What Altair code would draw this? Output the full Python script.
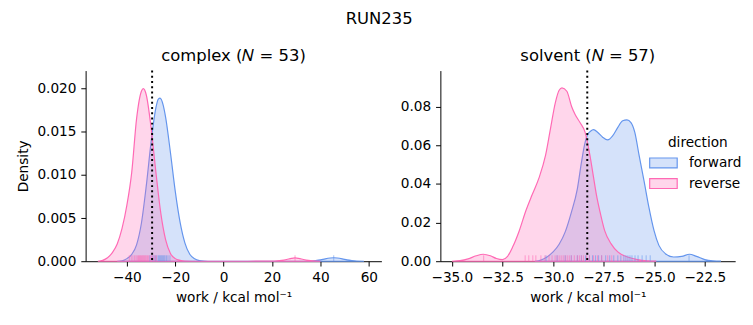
import altair as alt
import pandas as pd

# ---------------- data ----------------
directions = ["forward", "reverse"]

# complex panel: KDE curves
cx_fwd_x = [-44, -42, -40, -38, -36, -34, -32, -30, -28, -27, -26.3, -25, -24, -22, -20, -18, -16,
            -14, -12, -10, -8, -5, 0, 10, 20, 30, 36, 38, 40, 42, 44, 45.5, 47, 49, 51, 53, 55, 58]
cx_fwd_d = [0, 0.00005, 0.0003, 0.0008, 0.0019, 0.0044, 0.0087, 0.0138, 0.0178, 0.0188, 0.0189,
            0.0181, 0.0167, 0.0126, 0.0081, 0.0045, 0.0021, 0.0008, 0.00028, 0.00008, 0.00002, 0, 0,
            0, 0, 0, 0.00002, 0.00007, 0.00015, 0.00028, 0.00037, 0.0004, 0.00037, 0.00028, 0.00015,
            0.00007, 0.00002, 0]
cx_rev_x = [-52, -50, -48, -46, -44, -42, -40, -38, -36, -34, -33.2, -32, -30, -28, -26, -24, -22,
            -20, -18, -16, -10, 0, 10, 20, 22, 24, 26, 28, 29.5, 31, 33, 35, 37, 40]
cx_rev_d = [0, 0.0001, 0.0004, 0.0010, 0.0020, 0.0038, 0.0065, 0.0103, 0.0165, 0.0197, 0.0200,
            0.0193, 0.0155, 0.0103, 0.0056, 0.0025, 0.0009, 0.0003, 0.0001, 0.00002, 0, 0, 0,
            0.00001, 0.00004, 0.0001, 0.0002, 0.00033, 0.00038, 0.00033, 0.0002, 0.0001, 0.00004, 0]

# complex panel: rug samples
cx_fwd_rug = [-30.5, -29.5, -28.8, -28.2, -27.6, -27.0, -26.6, -26.2, -25.8, -25.4, -25.0, -24.6,
              -24.2, -23.6, -23.0, -22.2, 45.5]
cx_rev_rug = [-39.0, -38.2, -37.5, -36.8, -36.2, -35.7, -35.2, -34.8, -34.4, -34.0, -33.6, -33.2,
              -32.8, -32.4, -32.0, -31.5, -31.0, -30.4, -29.8, -29.2, -28.5, -27.8, 29.5]
cx_estimate = [-29.57]

# solvent panel: KDE curves
sv_fwd_x = [-30.9, -30.6, -30.3, -30.0, -29.7, -29.4, -29.1, -28.8, -28.6, -28.45, -28.3, -28.15,
            -28.0, -27.8, -27.55, -27.3, -27.05, -26.8, -26.56, -26.35, -26.15, -25.96, -25.75,
            -25.5, -25.26, -25.01, -24.77, -24.45, -24.04, -23.64, -23.26, -22.91, -22.5, -22.1, -21.7]
sv_fwd_d = [0, 0.0006, 0.0022, 0.0048, 0.0088, 0.0152, 0.0252, 0.0375, 0.051, 0.060, 0.0655, 0.0673,
            0.0681, 0.0668, 0.0642, 0.0628, 0.0650, 0.0693, 0.0727, 0.0732, 0.0718, 0.0667, 0.0549,
            0.0413, 0.0277, 0.0158, 0.0082, 0.0039, 0.0022, 0.0025, 0.0036, 0.0025, 0.00085, 0.0002, 0]
sv_rev_x = [-35.0, -34.6, -34.2, -33.8, -33.45, -33.1, -32.8, -32.5, -32.25, -32.0, -31.67, -31.35,
            -31.03, -30.70, -30.37, -30.13, -29.89, -29.7, -29.56, -29.32, -29.08, -28.91, -28.67,
            -28.42, -28.18, -28.02, -27.86, -27.69, -27.45, -27.13, -26.80, -26.32, -25.83, -25.34, -24.9]
sv_rev_d = [0, 0.0003, 0.0012, 0.0028, 0.0036, 0.0028, 0.0014, 0.0008, 0.0025, 0.0073, 0.0158, 0.026,
            0.0345, 0.043, 0.0549, 0.0685, 0.082, 0.0885, 0.0897, 0.088, 0.080, 0.076, 0.0718, 0.0668,
            0.0549, 0.0447, 0.0345, 0.026, 0.0158, 0.009, 0.0048, 0.0022, 0.00085, 0.0002, 0]

# solvent panel: rug samples
sv_fwd_rug = [-30.35, -29.8, -29.4, -29.1, -28.8, -28.6, -28.4, -28.2, -28.05, -27.9, -27.75, -27.6,
              -27.4, -27.2, -27.0, -26.8, -26.65, -26.5, -26.4, -26.3, -26.2, -26.1, -25.95, -25.8,
              -25.6, -25.4, -25.2, -23.28]
sv_rev_rug = [-33.43, -31.38, -31.2, -31.0, -30.85, -30.6, -30.4, -30.2, -30.05, -29.9, -29.8, -29.7,
              -29.6, -29.5, -29.4, -29.3, -29.2, -29.1, -28.95, -28.8, -28.7, -28.6, -28.5, -28.35,
              -28.2, -28.0, -27.8, -27.6, -27.3, -27.1]
sv_estimate = [-28.31]

# axis ticks
cx_xticks = [-40, -20, 0, 20, 40, 60]
cx_yticks = [0.0, 0.005, 0.010, 0.015, 0.020]
sv_xticks = [-35.0, -32.5, -30.0, -27.5, -25.0, -22.5]
sv_yticks = [0.00, 0.02, 0.04, 0.06, 0.08]

legend_title = ["direction"]

# ---------------- styling ----------------
BLUE = "#6495ED"
PINK = "#FF69B4"
FILL_RANGE = ["rgba(100,149,237,0.27)", "rgba(255,105,180,0.27)"]
STROKE_RANGE = [BLUE, PINK]
FONT = "DejaVu Sans"
W_L, W_R, H = 301, 300, 194


def curves(fx, fd, rx, rd):
    return pd.DataFrame({
        "work": list(fx) + list(rx),
        "density": list(fd) + list(rd),
        "direction": ["forward"] * len(fx) + ["reverse"] * len(rx),
    })


def rugs(f, r):
    return pd.DataFrame({
        "work": list(f) + list(r),
        "direction": ["forward"] * len(f) + ["reverse"] * len(r),
    })


def panel(cdf, rdf, est, xdom, xticks, xfmt, ydom, yticks, yfmt, title, ytitle, width, show_legend):
    xs = alt.Scale(domain=xdom, nice=False, zero=False)
    ys = alt.Scale(domain=ydom, nice=False, zero=False)
    xaxis = alt.Axis(values=xticks, format=xfmt, title="work / kcal mol⁻¹", grid=False)
    if ytitle:
        yaxis = alt.Axis(values=yticks, format=yfmt, title=ytitle, grid=False)
    else:
        yaxis = alt.Axis(values=yticks, format=yfmt, title=None, grid=False)
    fill_scale = alt.Scale(domain=directions, range=FILL_RANGE)
    stroke_scale = alt.Scale(domain=directions, range=STROKE_RANGE)
    leg = alt.Legend(
        title=None, orient="none", legendX=216, legendY=83, padding=0,
        symbolType="M-1.4,-0.5H1.4V0.5H-1.4Z", symbolSize=400, symbolStrokeWidth=1.2,
        labelOffset=15, rowPadding=2,
        labelFontSize=13.9, labelFont=FONT, labelColor="black",
    )
    area = alt.Chart(cdf).mark_area(interpolate="monotone", strokeWidth=1.2).encode(
        x=alt.X("work:Q", scale=xs, axis=xaxis),
        y=alt.Y("density:Q", scale=ys, axis=yaxis, stack=None),
        fill=alt.Fill("direction:N", scale=fill_scale, legend=leg if show_legend else None),
        stroke=alt.Stroke("direction:N", scale=stroke_scale, legend=leg if show_legend else None),
    )
    rug = alt.Chart(rdf).mark_rule(strokeWidth=1, opacity=0.6).encode(
        x=alt.X("work:Q", scale=xs),
        y=alt.value(H),
        y2=alt.value(H - 6),
        stroke=alt.Stroke("direction:N", scale=stroke_scale, legend=None),
    )
    vline = alt.Chart(pd.DataFrame({"work": est})).mark_rule(
        color="black", strokeDash=[2, 3.3], strokeWidth=2
    ).encode(x=alt.X("work:Q", scale=xs))
    layers = [area, rug, vline]
    if show_legend:
        ltitle = alt.Chart(pd.DataFrame({"t": legend_title})).mark_text(
            font=FONT, fontSize=13.9, color="black", align="center", baseline="middle"
        ).encode(text="t:N", x=alt.value(262), y=alt.value(74))
        layers.append(ltitle)
    return alt.layer(*layers).properties(
        width=width, height=H,
        title=alt.Title(title, fontSize=16.7, fontWeight="normal", font=FONT, color="black", offset=5),
    )


left = panel(curves(cx_fwd_x, cx_fwd_d, cx_rev_x, cx_rev_d), rugs(cx_fwd_rug, cx_rev_rug), cx_estimate,
             [-57.05, 65.2], cx_xticks, ".0f", [0, 0.0221], cx_yticks, ".3f",
             "complex (𝑁 = 53)", "Density", W_L, False)
right = panel(curves(sv_fwd_x, sv_fwd_d, sv_rev_x, sv_rev_d), rugs(sv_fwd_rug, sv_rev_rug), sv_estimate,
              [-35.57, -21.0], sv_xticks, ".1f", [0, 0.0987], sv_yticks, ".2f",
              "solvent (𝑁 = 57)", None, W_R, True)

chart = alt.hconcat(left, right, spacing=19).resolve_scale(
    x="independent", y="independent"
).resolve_legend(
    fill="independent", stroke="independent"
).properties(
    title=alt.Title("RUN235", fontSize=16.7, fontWeight="normal", font=FONT, color="black",
                    anchor="middle", offset=21),
    padding={"left": 8, "top": 0, "right": 3, "bottom": 5},
).configure_view(stroke=None).configure_axis(
    domainColor="black", tickColor="black", tickSize=4.9, labelFontSize=13.9, titleFontSize=13.9,
    labelFont=FONT, titleFont=FONT, labelColor="black", titleColor="black", titleFontWeight="normal",
    labelPadding=4.9, domainWidth=1, tickWidth=1, labelFlush=False,
).configure_axisX(titlePadding=6).configure_axisY(titlePadding=7)

chart.save("out.html", embed_options={"renderer": "svg", "actions": False})
